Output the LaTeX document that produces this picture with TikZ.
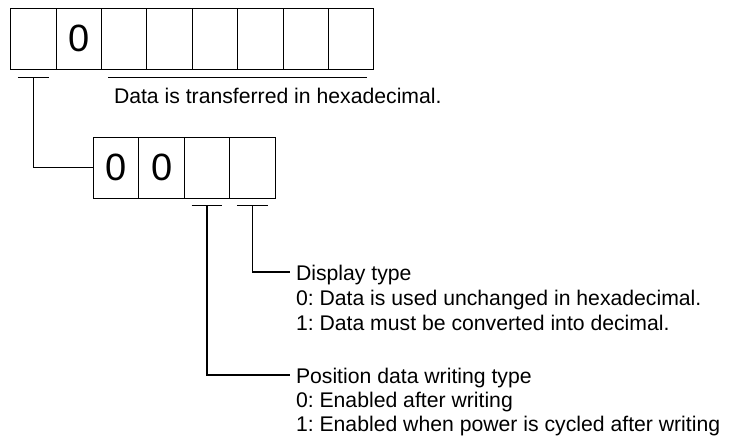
\documentclass[tikz,border=0pt]{standalone}
\usepackage{fontspec}
\setmainfont{Liberation Sans}
\usetikzlibrary{positioning}
\frenchspacing

\begin{document}
\begin{tikzpicture}[x=0.75pt,y=-0.75pt,line width=0.8pt]
            \tikzset{digit/.style={draw, minimum width=34.05pt, minimum height=45.6pt, inner sep=0pt, outer sep=0pt, font=\fontsize{28.5}{30}\selectfont},
                     note/.style={anchor=base west, inner xsep=4.5pt, inner ysep=0pt, outer sep=0pt, text height=13.5pt, text depth=0pt, font=\fontsize{15.9}{18}\selectfont}}

            \useasboundingbox (0,0) rectangle (729,441);

            % upper register
            \node[digit] (top1) at (33.4,38.7) {};
            \node[digit, right=0pt of top1] (top2) {0};
            \node[digit, right=0pt of top2] (top3) {};
            \node[digit, right=0pt of top3] (top4) {};
            \node[digit, right=0pt of top4] (top5) {};
            \node[digit, right=0pt of top5] (top6) {};
            \node[digit, right=0pt of top6] (top7) {};
            \node[digit, right=0pt of top7] (top8) {};

            \coordinate[below=6pt of top1] (topTick);
            \draw ([xshift=-11.6pt]topTick) -- ([xshift=11.6pt]topTick);
            \draw ([shift={(6.5,8)}]top3.south west) -- ([shift={(-6.5,8)}]top8.south east);
            \node[note] (hexNote) at (108,103.3) {Data is transferred in hexadecimal.};

            % lower register
            \node[digit] (low1) at (116.2,167.8) {0};
            \node[digit, right=0pt of low1] (low2) {0};
            \node[digit, right=0pt of low2] (low3) {};
            \node[digit, right=0pt of low3] (low4) {};

            \coordinate[below=5.25pt of low3] (writeTick);
            \coordinate[below=5.25pt of low4] (dispTick);
            \draw ([xshift=-11.6pt]writeTick) -- ([xshift=11.6pt]writeTick);
            \draw ([xshift=-11.6pt]dispTick) -- ([xshift=11.6pt]dispTick);

            % explanations
            \node[note] (dispHead) at (290,281) {Display type};
            \node[note] (dispZero) at (290,306) {0: Data is used unchanged in hexadecimal.};
            \node[note] (dispOne) at (290,331) {1: Data must be converted into decimal.};

            \node[note] (writeHead) at (290,384) {Position data writing type};
            \node[note] (writeZero) at (290,408) {0: Enabled after writing};
            \node[note] (writeOne) at (290,432) {1: Enabled when power is cycled after writing};

            \draw (topTick) |- (low1.west);
            \draw (dispTick) |- (dispHead.west);
            \draw (writeTick) |- (writeHead.west);
        \end{tikzpicture}
\end{document}
